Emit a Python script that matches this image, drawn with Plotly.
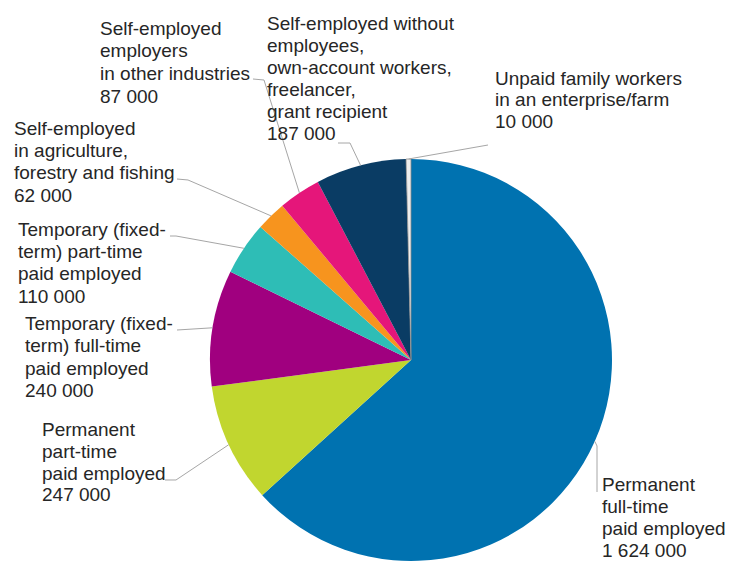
import math
import plotly.graph_objects as go

# Employed persons by type of employment
categories = [
    "Permanent full-time paid employed",
    "Permanent part-time paid employed",
    "Temporary (fixed-term) full-time paid employed",
    "Temporary (fixed-term) part-time paid employed",
    "Self-employed in agriculture, forestry and fishing",
    "Self-employed employers in other industries",
    "Self-employed without employees, own-account workers, freelancer, grant recipient",
    "Unpaid family workers in an enterprise/farm",
]
values = [1624000, 247000, 240000, 110000, 62000, 87000, 187000, 10000]

# Label text lines (value line is appended from the data)
label_lines = [
    ["Permanent", "full-time", "paid employed"],
    ["Permanent", "part-time", "paid employed"],
    ["Temporary (fixed-", "term) full-time", "paid employed"],
    ["Temporary (fixed-", "term) part-time", "paid employed"],
    ["Self-employed", "in agriculture,", "forestry and fishing"],
    ["Self-employed", "employers", "in other industries"],
    ["Self-employed without", "employees,", "own-account workers,", "freelancer,", "grant recipient"],
    ["Unpaid family workers", "in an enterprise/farm"],
]

colors = ["#0072B0", "#C1D62F", "#A0007F", "#2EBDB6", "#F7941E", "#E5167A", "#0A3C64", "#EDEDED"]

W, H = 729, 562
CX, CY, R = 411, 360, 201  # pie centre and radius in pixels

# label placement: left x, centre of first line, line step (pixels)
label_pos = [
    (600, 484, 22.0),
    (40, 429.5, 21.8),
    (23, 323.5, 22.3),
    (16, 229.5, 22.2),
    (12, 128.5, 22.2),
    (98, 28.5, 22.5),
    (265, 23, 22.1),
    (493, 78.5, 21.5),
]
# leader line bend / end points (pixels)
leader_pts = [
    [(597, 446), (597, 492)],
    [(176, 480), (165, 480)],
    [(177, 330)],
    [(176, 236), (170, 236)],
    [(188, 180), (177, 179)],
    [(264, 80), (253, 79)],
    [(350, 143), (338, 143)],
    [(488, 145)],
]


def px(x):
    return x / W


def py(y):
    return 1 - y / H


def fmt(v):
    return f"{v:,}".replace(",", " ")


fig = go.Figure()
fig.add_trace(go.Pie(
    labels=categories,
    values=values,
    sort=False,
    direction="clockwise",
    rotation=0,
    textinfo="none",
    hoverinfo="label+value",
    marker=dict(colors=colors,
                line=dict(color=["#FFFFFF"] * 7 + ["#8C8C8C"],
                          width=[0] * 7 + [0.8])),
    domain=dict(x=[px(CX - R), px(CX + R)], y=[py(CY + R), py(CY - R)]),
    showlegend=False,
))

shapes = []
annotations = []
total = sum(values)
cum = 0
for i, v in enumerate(values):
    mid = (cum + v / 2) / total * 2 * math.pi
    cum += v
    sx = CX + R * math.sin(mid)
    sy = CY - R * math.cos(mid)
    pts = [(sx, sy)] + leader_pts[i]
    path = "M " + " L ".join(f"{px(x):.5f},{py(y):.5f}" for x, y in pts)
    shapes.append(dict(type="path", xref="paper", yref="paper", path=path,
                       line=dict(color="#A6A6A6", width=1)))
    lines = label_lines[i] + [fmt(v)]
    lx, ly, step = label_pos[i]
    for j, t in enumerate(lines):
        annotations.append(dict(
            text=t, x=px(lx), y=py(ly + j * step), xref="paper", yref="paper",
            xanchor="left", yanchor="middle", showarrow=False,
            font=dict(family="Liberation Sans, Arial, sans-serif", size=19, color="#262626"),
        ))

fig.update_layout(
    width=W, height=H,
    margin=dict(l=0, r=0, t=0, b=0),
    paper_bgcolor="white",
    plot_bgcolor="white",
    shapes=shapes,
    annotations=annotations,
)

fig.write_html("out.html")
